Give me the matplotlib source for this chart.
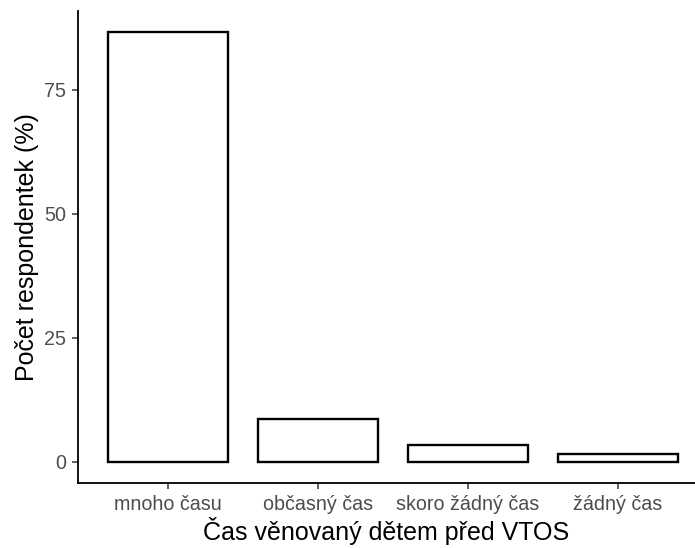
import matplotlib.pyplot as plt
import numpy as np

plt.rcParams['font.family'] = ['Liberation Sans', 'DejaVu Sans']

categories = ['mnoho času', 'občasný čas', 'skoro žádný čas', 'žádný čas']
percent = [86.6, 8.5, 3.3, 1.6]
yticks = [0, 25, 50, 75]

W, H = 695, 548
fig = plt.figure(figsize=(W / 100, H / 100), dpi=100)
left, right, top, bottom = 78, 695, 11, 483
ax = fig.add_axes([left / W, 1 - bottom / H, (right - left) / W, (bottom - top) / H])

x = np.arange(1, len(categories) + 1)
ax.bar(x, percent, width=0.8, color='white', edgecolor='black', linewidth=1.7)

ax.set_xlim(0.4, 0.4 + (right - left) / 150)
ymax = max(percent)
ax.set_ylim(-0.05 * ymax, 1.05 * ymax)
ax.set_xticks(x)
ax.set_xticklabels(categories)
ax.set_yticks(yticks)

for s in ['top', 'right']:
    ax.spines[s].set_visible(False)
for s in ['left', 'bottom']:
    ax.spines[s].set_linewidth(1.3)
    ax.spines[s].set_color('black')

ax.tick_params(axis='both', length=4.5, width=1.1, color='#333333',
               labelcolor='#4D4D4D', labelsize=14.2, pad=4)
ax.set_xlabel('Čas věnovaný dětem před VTOS', fontsize=18, color='black', labelpad=2)
ax.set_ylabel('Počet respondentek (%)', fontsize=18, color='black', labelpad=4)

fig.savefig('out.png', dpi=100)
